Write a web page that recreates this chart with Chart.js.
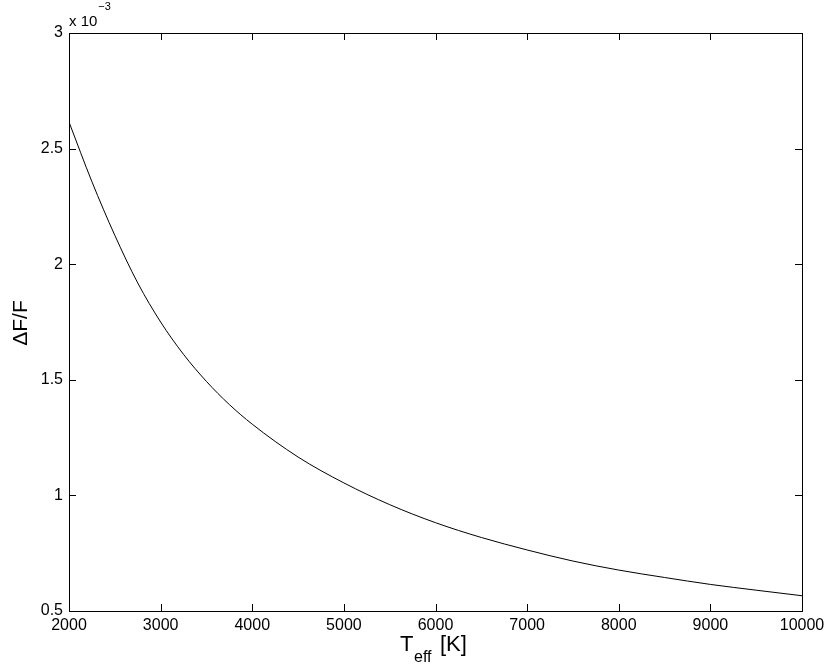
<!DOCTYPE html>
<html>
<head>
<meta charset="utf-8">
<script src="https://cdn.jsdelivr.net/npm/chart.js@4/dist/chart.umd.min.js"></script>
<style>
  html, body { margin: 0; padding: 0; background: #fff; }
  #wrap { width: 830px; height: 671px; }
</style>
</head>
<body>
<div id="wrap"><canvas id="chart" width="830" height="671"></canvas></div>
<script>
// effective temperature [K]
const teff = [2000, 2250, 2500, 2750, 3000, 3250, 3500, 3750, 4000, 4500, 5000, 5500,
  6000, 6500, 7000, 7500, 8000, 8500, 9000, 9500, 10000]
// dF/F in units of 1e-3
const deltaF = [2.615, 2.357, 2.125, 1.919, 1.750, 1.610, 1.493, 1.393, 1.308, 1.166, 1.054, 0.960,
  0.882, 0.818, 0.764, 0.716, 0.677, 0.645, 0.615, 0.590, 0.566]

const xTicks = [2000, 3000, 4000, 5000, 6000, 7000, 8000, 9000, 10000]
const yTicks = [0.5, 1, 1.5, 2, 2.5, 3]

const FONT = '"Liberation Sans", Arial, Helvetica, sans-serif'

// matlab style box with inward ticks + the axis texts
const matlabAxes = {
  id: 'matlabAxes',
  afterDraw(chart) {
    const { ctx, chartArea: a, scales } = chart
    const len = 7
    ctx.save()
    ctx.strokeStyle = '#000'
    ctx.lineWidth = 1
    ctx.beginPath()
    xTicks.forEach(v => {
      const px = Math.round(scales.x.getPixelForValue(v)) + 0.5
      ctx.moveTo(px, a.bottom); ctx.lineTo(px, a.bottom - len)
      ctx.moveTo(px, a.top); ctx.lineTo(px, a.top + len)
    })
    yTicks.forEach(v => {
      const py = Math.round(scales.y.getPixelForValue(v)) + 0.5
      ctx.moveTo(a.left, py); ctx.lineTo(a.left + len, py)
      ctx.moveTo(a.right, py); ctx.lineTo(a.right - len, py)
    })
    ctx.stroke()
    ctx.strokeRect(Math.round(a.left) + 0.5, Math.round(a.top) + 0.5,
      Math.round(a.right - a.left), Math.round(a.bottom - a.top))

    ctx.fillStyle = '#000'
    ctx.textBaseline = 'alphabetic'
    ctx.textAlign = 'left'
    // exponent label
    ctx.font = '15px ' + FONT
    ctx.fillText('x 10', a.left, 26)
    const w = ctx.measureText('x 10').width
    ctx.font = '11px ' + FONT
    ctx.fillText('\u22123', a.left + w + 1, 10)

    // x title with subscript
    ctx.font = '22px ' + FONT
    ctx.fillText('T', 400, 651)
    ctx.font = '16px ' + FONT
    ctx.fillText('eff', 414, 662)
    ctx.font = '22px ' + FONT
    ctx.fillText('[K]', 440, 651)

    // y title
    ctx.translate(27, 323)
    ctx.rotate(-Math.PI / 2)
    ctx.textAlign = 'center'
    ctx.font = '21px ' + FONT
    ctx.fillText('\u0394F/F', 0, 0)
    ctx.restore()
  }
}

new Chart(document.getElementById('chart'), {
  type: 'line',
  data: {
    datasets: [{
      data: teff.map((t, i) => ({ x: t, y: deltaF[i] })),
      borderColor: '#000',
      borderWidth: 1,
      pointRadius: 0,
      fill: false,
      cubicInterpolationMode: 'monotone'
    }]
  },
  options: {
    responsive: false,
    animation: false,
    layout: { padding: { top: 33, right: 28, left: 0, bottom: 0 } },
    plugins: { legend: { display: false }, tooltip: { enabled: false } },
    scales: {
      x: {
        type: 'linear',
        min: 2000,
        max: 10000,
        afterBuildTicks: s => { s.ticks = xTicks.map(v => ({ value: v })) },
        afterFit: s => { s.height = 60 },
        grid: { display: false, drawTicks: false },
        border: { display: false },
        ticks: {
          color: '#000',
          font: { family: FONT, size: 16 },
          padding: 5,
          maxRotation: 0,
          autoSkip: false,
          callback: v => String(v)
        }
      },
      y: {
        type: 'linear',
        min: 0.5,
        max: 3,
        afterBuildTicks: s => { s.ticks = yTicks.map(v => ({ value: v })) },
        afterFit: s => { s.width = 69 },
        grid: { display: false, drawTicks: false },
        border: { display: false },
        ticks: {
          color: '#000',
          font: { family: FONT, size: 16 },
          padding: 6,
          callback: v => String(v)
        }
      }
    }
  },
  plugins: [matlabAxes]
})
</script>
</body>
</html>
